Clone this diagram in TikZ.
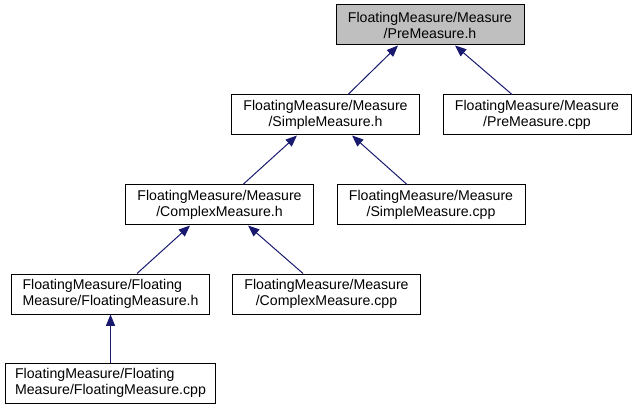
\documentclass[tikz,border=0pt]{standalone}
\usepackage{fontspec}
\setmainfont{Liberation Sans}
\usetikzlibrary{arrows.meta}
\definecolor{edgeblue}{HTML}{191970}
\definecolor{hdgray}{HTML}{BFBFBF}
\begin{document}
\begin{tikzpicture}[x=0.75pt,y=-0.75pt,
  box/.style={draw=black,line width=0.75pt,fill=white,minimum height=30pt,inner sep=0pt,
    font=\fontsize{10.6}{12}\selectfont,align=center},
  dep/.style={draw=edgeblue,line width=0.75pt,-{Triangle[length=8.5pt,width=6.8pt]}}]
\useasboundingbox (0,0) rectangle (634,409);
\node[box,fill=hdgray,minimum width=141pt] (preh) at (430,25) {FloatingMeasure/Measure\\/PreMeasure.h};
\node[box,minimum width=141.5pt] (simpleh) at (325.5,115) {FloatingMeasure/Measure\\/SimpleMeasure.h};
\node[box,minimum width=141pt] (precpp) at (537,115) {FloatingMeasure/Measure\\/PreMeasure.cpp};
\node[box,minimum width=141.5pt] (complexh) at (219.5,205) {FloatingMeasure/Measure\\/ComplexMeasure.h};
\node[box,minimum width=141pt] (simplecpp) at (431,205) {FloatingMeasure/Measure\\/SimpleMeasure.cpp};
\node[box,minimum width=149pt,align=left] (floath) at (110.5,294) {FloatingMeasure/Floating\\Measure/FloatingMeasure.h};
\node[box,minimum width=141.5pt] (complexcpp) at (326.5,294) {FloatingMeasure/Measure\\/ComplexMeasure.cpp};
\node[box,minimum width=158pt,align=left] (floatcpp) at (110.5,383) {FloatingMeasure/Floating\\Measure/FloatingMeasure.cpp};
\draw[dep] ([xshift=16.9pt]simpleh.north) -- ([xshift=-24pt]preh.south);
\draw[dep] ([xshift=-18.75pt]precpp.north) -- ([xshift=18.75pt]preh.south);
\draw[dep] ([xshift=17.6pt]complexh.north) -- ([xshift=-21.4pt]simpleh.south);
\draw[dep] ([xshift=-18pt]simplecpp.north) -- ([xshift=19.9pt]simpleh.south);
\draw[dep] ([xshift=19.9pt]floath.north) -- ([xshift=-22.1pt]complexh.south);
\draw[dep] ([xshift=-17.6pt]complexcpp.north) -- ([xshift=21.4pt]complexh.south);
\draw[dep] (floatcpp.north) -- (floath.south);
\end{tikzpicture}
\end{document}
